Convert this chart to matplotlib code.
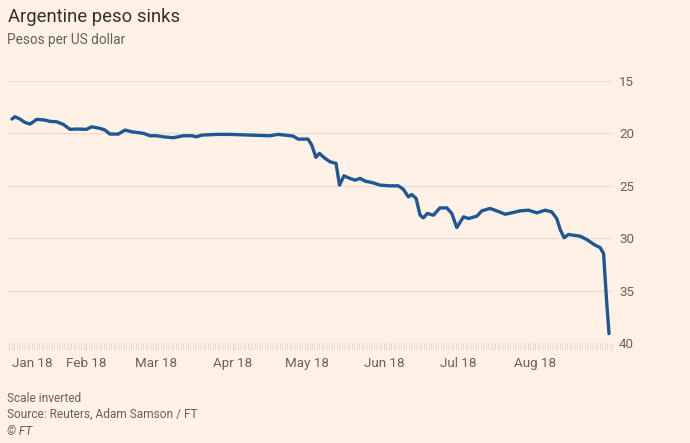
import matplotlib
matplotlib.use("Agg")
import matplotlib.pyplot as plt
from matplotlib.ticker import FixedLocator, MultipleLocator
import matplotlib.transforms as mtransforms

# Days since 1 Jan 2018
days = [1.0, 2.2, 4.2, 6.2, 8.3, 11.0, 14.3, 16.3, 19.0, 21.7, 24.4, 27.1, 31.1, 33.1,
        36.5, 38.5, 40.5, 43.9, 46.6, 49.3, 54.0, 56.7, 59.4, 62.0, 66.1, 70.1, 73.5,
        75.5, 77.5, 83.6, 88.9, 97.0, 105.1, 108.3, 114.4, 116.4, 120.4, 121.9, 123.6,
        125.0, 127.3, 129.3, 131.7, 133.1, 134.9, 137.3, 139.4, 141.4, 143.4, 146.1,
        149.5, 153.5, 156.8, 158.8, 160.9, 162.2, 164.0, 165.6, 166.9, 168.5, 171.0,
        173.6, 176.4, 178.4, 180.4, 183.1, 185.1, 188.5, 190.5, 193.8, 196.5, 199.9,
        202.6, 205.9, 209.3, 212.7, 216.0, 218.7, 220.7, 222.1, 223.7, 225.4, 227.4,
        230.1, 232.8, 236.2, 238.2, 239.6, 240.2, 240.9, 241.8]
pesos_per_usd = [18.65, 18.43, 18.65, 18.97, 19.13, 18.68, 18.75, 18.87, 18.91, 19.16,
                 19.63, 19.60, 19.63, 19.39, 19.54, 19.70, 20.08, 20.08, 19.70, 19.86,
                 20.01, 20.24, 20.24, 20.34, 20.43, 20.24, 20.24, 20.34, 20.18, 20.11,
                 20.11, 20.18, 20.24, 20.11, 20.27, 20.56, 20.56, 21.13, 22.30, 21.92,
                 22.40, 22.72, 22.87, 24.94, 24.06, 24.30, 24.47, 24.30, 24.56, 24.69,
                 24.94, 25.01, 25.01, 25.32, 26.06, 25.83, 26.21, 27.80, 28.06, 27.64,
                 27.80, 27.11, 27.11, 27.64, 28.98, 27.96, 28.12, 27.90, 27.39, 27.16,
                 27.39, 27.71, 27.58, 27.39, 27.33, 27.58, 27.33, 27.49, 28.12, 29.17,
                 29.95, 29.64, 29.71, 29.80, 30.12, 30.66, 30.88, 31.45, 33.68, 36.22,
                 39.08]

month_starts = [0, 31, 59, 90, 120, 151, 181, 212]
month_labels = ["Jan 18", "Feb 18", "Mar 18", "Apr 18", "May 18", "Jun 18", "Jul 18", "Aug 18"]
y_ticks = [15, 20, 25, 30, 35, 40]

BG = "#FFF1E5"
LINE = "#1E5894"
GRID = "#EADFD3"
TXT = "#66605C"
TICK = "#DDD1C5"

W, H = 690, 443
fig = plt.figure(figsize=(W / 100, H / 100), dpi=100, facecolor=BG)
plt.rcParams['font.family'] = ['Roboto', 'DejaVu Sans']

ax = fig.add_axes([8 / W, 1 - 343.3 / H, 604 / W, (343.3 - 80.7) / H])
ax.set_facecolor(BG)
ax.plot(days, pesos_per_usd, color=LINE, lw=2.4, solid_joinstyle='round',
        solid_capstyle='round', zorder=3)

ax.set_xlim(-0.6, 243.0)
ax.set_ylim(40, 15)

for s in ax.spines.values():
    s.set_visible(False)

ax.yaxis.tick_right()
ax.yaxis.set_major_locator(FixedLocator(y_ticks))
ax.tick_params(axis='y', length=0, pad=5, labelsize=9.6, labelcolor=TXT)
ax.grid(axis='y', color=GRID, lw=0.9, zorder=0)

ax.xaxis.set_major_locator(FixedLocator(month_starts))
ax.set_xticklabels(month_labels)
ax.xaxis.set_minor_locator(MultipleLocator(1))
ax.tick_params(axis='x', which='major', length=5, width=0.6, color=TICK,
               pad=5, labelsize=9.6, labelcolor=TXT)
ax.tick_params(axis='x', which='minor', length=5, width=0.5, color=TICK)
labels = ax.get_xticklabels()
labels[0].set_horizontalalignment('left')
labels[0].set_transform(labels[0].get_transform() + mtransforms.ScaledTranslation(3 / 100, 0, fig.dpi_scale_trans))

fig.text(8 / W, 1 - 22 / H, "Argentine peso sinks", fontsize=13.3, color="#33302E")
fig.text(7 / W, 1 - 44 / H, "Pesos per US dollar", fontsize=9.8, color=TXT)
fig.text(7 / W, 1 - 402 / H, "Scale inverted", fontsize=8.6, color=TXT)
fig.text(7 / W, 1 - 418 / H, "Source: Reuters, Adam Samson / FT", fontsize=8.6, color=TXT)
fig.text(7 / W, 1 - 435 / H, "© FT", fontsize=8.6, color=TXT, style='italic')

fig.savefig("out.png", dpi=100, facecolor=BG)
